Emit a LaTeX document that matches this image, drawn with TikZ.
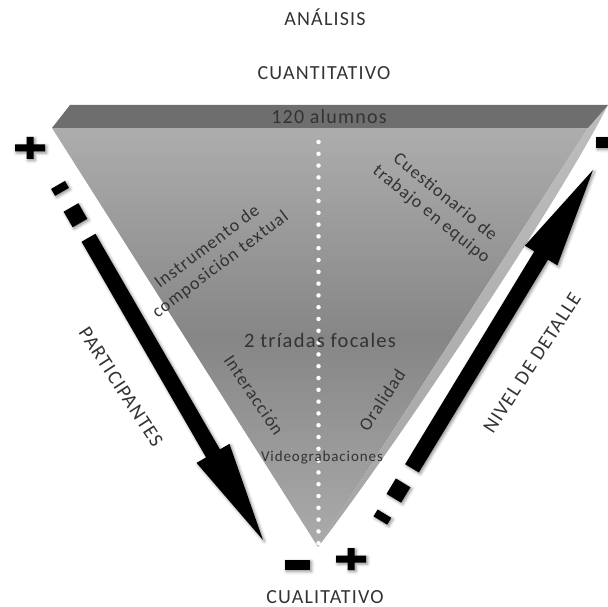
\documentclass[tikz,border=0pt]{standalone}
\usepackage{fontspec}
\setmainfont{Carlito}
\newfontfamily\spaced[LetterSpace=6]{Carlito}
\usetikzlibrary{shadows.blur}

\definecolor{bandgray}{HTML}{6E6E6E}
\definecolor{facetop}{HTML}{ADADAD}
\definecolor{facemid}{HTML}{868686}
\definecolor{facebot}{HTML}{ABABAB}
\definecolor{sidetop}{HTML}{BDBDBD}
\definecolor{sidebot}{HTML}{A4A4A4}
\definecolor{ink}{HTML}{333333}

\begin{document}
\begin{tikzpicture}[x=1pt,y=-1pt,
  lbl/.style={text=ink, inner sep=0pt, font=\spaced\fontsize{20}{24}\selectfont},
  inlbl/.style={text=ink, inner sep=0pt, align=center, font=\spaced\fontsize{18}{22}\selectfont},
  smalllbl/.style={text=ink, inner sep=0pt, font=\spaced\fontsize{15}{18}\selectfont},
  solidblack/.style={fill=black, blur shadow={shadow xshift=1.5pt, shadow yshift=-1.5pt, shadow blur radius=3pt, shadow opacity=45}},
  axisarr/.pic={
    % head and shaft of the block arrow, tip at the origin
    \fill[solidblack] (0,0) -- (-100,-19) -- (-100,-8) -- (-349,-8) -- (-349,8)
       -- (-100,8) -- (-100,19) -- cycle;
    % two dashes leading into the shaft
    \fill[solidblack] (-366,-8.5) rectangle (-384,8.5);
    \fill[solidblack] (-402,-8) rectangle (-410,8);
  },
  plussign/.pic={
    \fill[solidblack] (-15,-3.5) -- (-3.5,-3.5) -- (-3.5,-11) -- (3.5,-11) -- (3.5,-3.5)
       -- (15,-3.5) -- (15,3.5) -- (3.5,3.5) -- (3.5,11) -- (-3.5,11) -- (-3.5,3.5)
       -- (-15,3.5) -- cycle;
  }
]
\useasboundingbox (0,0) rectangle (608,607);
\clip (0,0) rectangle (608,607);

% corner points of the prism
\coordinate (tl) at (52,128);
\coordinate (tr) at (588,128);
\coordinate (apex) at (318,547);
\coordinate (btl) at (70,105);
\coordinate (btr) at (608,105);

% front face (middle color last, so it is not reset)
\shade[top color=facetop, bottom color=facebot, middle color=facemid]
  (tl) -- (tr) -- (apex) -- cycle;
% right side face
\shade[top color=sidetop, bottom color=sidebot]
  (tr) -- (btr) .. controls (560,200) and (400,440) .. (apex) -- cycle;
% top face
\fill[bandgray] (tl) -- (btl) -- (btr) -- (tr) -- cycle;

% dotted divider
\draw[white, line width=4.5pt, line cap=round, dash pattern=on 0pt off 11.8pt]
  (318.5,142) -- (318.5,545);

% headings
\node[lbl] (analisis) at (325,17) {ANÁLISIS};
\node[lbl] (cuanti) at (324,73) {CUANTITATIVO};
\node[lbl] (cuali) at (325,597) {CUALITATIVO};

% labels on the prism
\node[lbl] (alumnos) at (329,117) {120 alumnos};
\node[inlbl, rotate=37] (instrumento) at (214,256) {Instrumento de\\composición textual};
\node[inlbl, rotate=-39] (cuestionario) at (438,206) {Cuestionario de\\trabajo en equipo};
\node[lbl, font=\spaced\fontsize{20.5}{24}\selectfont] (triadas) at (320,340) {2 tríadas focales};
\node[inlbl, rotate=-56] (interaccion) at (254,395) {Interacción};
\node[inlbl, rotate=57] (oralidad) at (382,400) {Oralidad};
\node[smalllbl] (video) at (322,458) {Videograbaciones};

% axis labels
\node[lbl, rotate=-57] (participantes) at (121,387) {PARTICIPANTES};
\node[lbl, rotate=57] (detalle) at (532,363) {NIVEL DE DETALLE};

% axis arrows
\pic[rotate=-60] at (263,540) {axisarr};
\pic[rotate=58.75] at (593,170) {axisarr};

% plus and minus signs
\pic at (30,148) {plussign};
\pic at (351,559) {plussign};
\fill[solidblack] (285,560) rectangle (310,570);
\fill[solidblack] (596,137) rectangle (616,148);
\end{tikzpicture}
\end{document}
